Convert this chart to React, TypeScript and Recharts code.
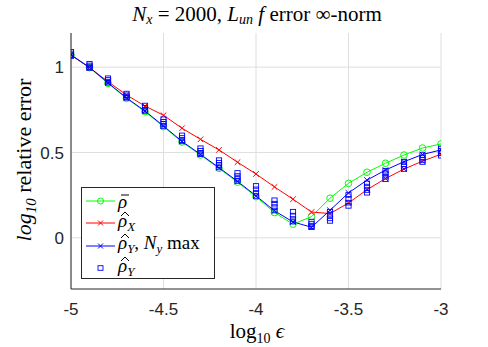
import React from 'react';
import { ComposedChart, Line, XAxis, YAxis, CartesianGrid } from 'recharts';

const xVals = [-5, -4.9, -4.8, -4.7, -4.6, -4.5, -4.4, -4.3, -4.2, -4.1, -4, -3.9, -3.8, -3.7, -3.6, -3.5, -3.4, -3.3, -3.2, -3.1, -3];
const rhoBar = [1.07, 0.997, 0.905, 0.817, 0.739, 0.651, 0.561, 0.485, 0.407, 0.326, 0.241, 0.148, 0.08, 0.124, 0.232, 0.319, 0.384, 0.437, 0.485, 0.526, 0.55];
const rhoX = [1.07, 0.997, 0.915, 0.837, 0.772, 0.718, 0.642, 0.577, 0.515, 0.443, 0.374, 0.298, 0.226, 0.151, 0.142, 0.204, 0.282, 0.347, 0.403, 0.449, 0.49];
const rhoYmax = [1.072, 0.999, 0.908, 0.82, 0.743, 0.655, 0.565, 0.489, 0.411, 0.331, 0.246, 0.158, 0.093, 0.062, 0.161, 0.263, 0.338, 0.397, 0.446, 0.488, 0.515];
const rhoY1 = [1.09, 1.02, 0.935, 0.845, 0.775, 0.695, 0.6, 0.525, 0.455, 0.38, 0.304, 0.22, 0.153, 0.095, 0.153, 0.251, 0.319, 0.393, 0.446, 0.485, 0.524];
const rhoY2 = [1.08, 1.01, 0.925, 0.835, 0.762, 0.68, 0.585, 0.51, 0.44, 0.362, 0.284, 0.2, 0.13, 0.081, 0.134, 0.228, 0.3, 0.378, 0.431, 0.47, 0.509];
const rhoY3 = [1.07, 1.0, 0.915, 0.825, 0.75, 0.667, 0.572, 0.497, 0.425, 0.345, 0.263, 0.18, 0.11, 0.068, 0.114, 0.206, 0.28, 0.358, 0.417, 0.456, 0.495];
const rhoY4 = [1.065, 0.995, 0.908, 0.82, 0.743, 0.655, 0.565, 0.49, 0.412, 0.333, 0.245, 0.16, 0.095, 0.062, 0.099, 0.187, 0.264, 0.343, 0.403, 0.444, 0.481];
const xTicks = [-5, -4.5, -4, -3.5, -3];
const yTicks = [0, 0.5, 1];

const data = xVals.map((x, i) => ({
  x,
  rhoBar: rhoBar[i],
  rhoX: rhoX[i],
  rhoYmax: rhoYmax[i],
  y1: rhoY1[i],
  y2: rhoY2[i],
  y3: rhoY3[i],
  y4: rhoY4[i],
}));

const GREEN = '#00ff00';
const RED = '#ff0000';
const BLUE = '#0000ff';
const AXIS = '#262626';

const Circle = (props: any) => {
  const { cx, cy, index } = props;
  return <circle key={index} cx={cx} cy={cy} r={3.3} fill="none" stroke={GREEN} strokeWidth={1} />;
};

const makeCross = (color: string) => (props: any) => {
  const { cx, cy, index } = props;
  const s = 2.8;
  return (
    <g key={index}>
      <line x1={cx - s} y1={cy - s} x2={cx + s} y2={cy + s} stroke={color} strokeWidth={1} />
      <line x1={cx - s} y1={cy + s} x2={cx + s} y2={cy - s} stroke={color} strokeWidth={1} />
    </g>
  );
};

const Square = (props: any) => {
  const { cx, cy, index } = props;
  return <rect key={index} x={cx - 2.6} y={cy - 2.3} width={5.2} height={4.6} fill="none" stroke={BLUE} strokeWidth={0.9} />;
};

const lserif = '"Liberation Serif", "DejaVu Serif", serif';
const sans = '"Liberation Sans", Arial, sans-serif';

const LegendRow = ({ kind, color, children }: any) => (
  <div style={{ position: 'relative', height: 22.3, display: 'flex', alignItems: 'center' }}>
    <svg width={36} height={22} style={{ flex: 'none' }}>
      {kind !== 'square' && <line x1={4} y1={11} x2={33} y2={11} stroke={color} strokeWidth={1} />}
      {kind === 'circle' && <circle cx={18.5} cy={11} r={3} fill="none" stroke={color} strokeWidth={1} />}
      {kind === 'cross' && (
        <g>
          <line x1={16} y1={8.5} x2={21} y2={13.5} stroke={color} strokeWidth={1} />
          <line x1={16} y1={13.5} x2={21} y2={8.5} stroke={color} strokeWidth={1} />
        </g>
      )}
      {kind === 'square' && <rect x={16} y={8.7} width={5} height={4.6} fill="none" stroke={color} strokeWidth={0.9} />}
    </svg>
    <span style={{ fontFamily: lserif, fontSize: 19, color: '#000', whiteSpace: 'nowrap', lineHeight: '19px' }}>{children}</span>
  </div>
);

const Rho = ({ accent }: { accent: 'hat' | 'bar' }) => (
  <span style={{ position: 'relative', display: 'inline-block', fontStyle: 'italic' }}>
    ρ
    <svg width={10} height={6} style={{ position: 'absolute', left: 1.5, top: 0 }}>
      {accent === 'hat' ? (
        <polyline points="1,5 5,1 9,5" fill="none" stroke="#000" strokeWidth={1} />
      ) : (
        <line x1={1} y1={3} x2={9} y2={3} stroke="#000" strokeWidth={1} />
      )}
    </svg>
  </span>
);

const subStyle: React.CSSProperties = { fontSize: 13, fontStyle: 'italic', verticalAlign: '-4px' };

export default function App() {
  return (
    <div style={{ position: 'absolute', left: 0, top: 0, width: 488, height: 347, background: '#fff' }}>
      <ComposedChart width={488} height={347} data={data} margin={{ top: 33, right: 47, bottom: 0, left: 0 }}>
        <CartesianGrid stroke="#dedede" strokeWidth={1} horizontalValues={yTicks} verticalValues={xTicks} />
        <XAxis
          dataKey="x"
          type="number"
          domain={[-5, -3]}
          ticks={xTicks}
          tickLine={false}
          tickSize={6}
          tickMargin={8}
          height={58}
          stroke={AXIS}
          tick={{ fill: AXIS, fontSize: 17, fontFamily: sans }}
          allowDataOverflow
        />
        <YAxis
          type="number"
          domain={[-0.3, 1.2]}
          ticks={yTicks}
          tickLine={false}
          tickSize={6}
          tickMargin={1}
          width={71}
          stroke={AXIS}
          tick={{ fill: AXIS, fontSize: 17, fontFamily: sans }}
          allowDataOverflow
        />
        <Line dataKey="rhoBar" stroke={GREEN} strokeWidth={1} dot={Circle} isAnimationActive={false} activeDot={false} />
        <Line dataKey="rhoX" stroke={RED} strokeWidth={1} dot={makeCross(RED)} isAnimationActive={false} activeDot={false} />
        <Line dataKey="rhoYmax" stroke={BLUE} strokeWidth={1} dot={makeCross(BLUE)} isAnimationActive={false} activeDot={false} />
        <Line dataKey="y1" stroke="none" dot={Square} isAnimationActive={false} activeDot={false} />
        <Line dataKey="y2" stroke="none" dot={Square} isAnimationActive={false} activeDot={false} />
        <Line dataKey="y3" stroke="none" dot={Square} isAnimationActive={false} activeDot={false} />
        <Line dataKey="y4" stroke="none" dot={Square} isAnimationActive={false} activeDot={false} />
      </ComposedChart>
      <svg width={488} height={347} style={{ position: 'absolute', left: 0, top: 0, pointerEvents: 'none' }}>
        <text x={257} y={21} textAnchor="middle" fontFamily={lserif} fontSize={21} fill="#000">
          <tspan fontStyle="italic">N</tspan>
          <tspan fontStyle="italic" fontSize={14} dy={3}>x</tspan>
          <tspan dy={-3}> = 2000, </tspan>
          <tspan fontStyle="italic">L</tspan>
          <tspan fontStyle="italic" fontSize={14} dy={3}>un</tspan>
          <tspan fontStyle="italic" dy={-3}> f</tspan>
          <tspan>  error ∞-norm</tspan>
        </text>
        <text x={257} y={338} textAnchor="middle" fontFamily={lserif} fontSize={21} fill="#000">
          <tspan>log</tspan>
          <tspan fontSize={14} dy={5}>10</tspan>
          <tspan dy={-5} fontStyle="italic"> ϵ</tspan>
        </text>
        <text transform="translate(31,160) rotate(-90)" textAnchor="middle" fontFamily={lserif} fontSize={22} fill="#000">
          <tspan fontStyle="italic">log</tspan>
          <tspan fontStyle="italic" fontSize={15} dy={5}>10</tspan>
          <tspan dy={-5}> relative error</tspan>
        </text>
      </svg>
      <div
        style={{
          position: 'absolute',
          left: 81,
          top: 187,
          width: 134,
          height: 92,
          border: `1px solid ${AXIS}`,
          background: '#fff',
          boxSizing: 'border-box',
          paddingTop: 2,
          overflow: 'hidden',
        }}
      >
        <LegendRow kind="circle" color={GREEN}>
          <Rho accent="bar" />
        </LegendRow>
        <LegendRow kind="cross" color={RED}>
          <Rho accent="hat" />
          <span style={subStyle}>X</span>
        </LegendRow>
        <LegendRow kind="cross" color={BLUE}>
          <Rho accent="hat" />
          <span style={subStyle}>Y</span>
          <span>, </span>
          <span style={{ fontStyle: 'italic' }}>N</span>
          <span style={subStyle}>y</span>
          <span> max</span>
        </LegendRow>
        <LegendRow kind="square" color={BLUE}>
          <Rho accent="hat" />
          <span style={subStyle}>Y</span>
        </LegendRow>
      </div>
    </div>
  );
}
